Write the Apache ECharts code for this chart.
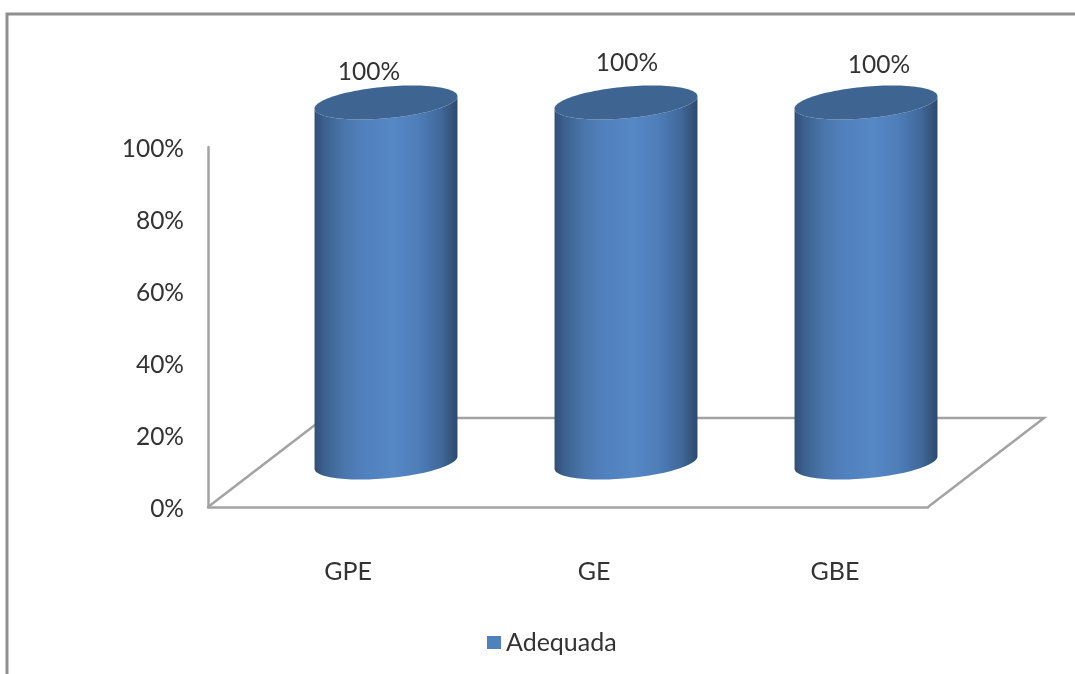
<!DOCTYPE html>
<html>
<head>
<meta charset="utf-8">
<style>html,body{margin:0;padding:0;background:#fff}#chart{width:1075px;height:674px}</style>
<script src="https://cdn.jsdelivr.net/npm/echarts@6/dist/echarts.min.js"></script>
</head>
<body>
<div id="chart"></div>
<script>
// Share of "Adequada" per group
const categories = ['GPE', 'GE', 'GBE'];
const adequada = [100, 100, 100];
const seriesName = 'Adequada';

// Depth of the 3D floor, in pixels
const depthX = 116, depthY = 89;
// Nudges for value labels and category labels, per group
const valueLabelShift = [[-17, -30], [1, -39], [13, -37]];
const categoryShift = { GPE: 20, GE: 26, GBE: 27 };

const FONT = 'Lato';
const TEXT = '#333333';
const AXIS = '#a3a3a3';

function ellipsePoints(cx, cy, a, b, tilt, from, to, n) {
  const pts = [];
  for (let i = 0; i <= n; i++) {
    const t = from + (to - from) * i / n;
    const ex = a * Math.cos(t), ey = b * Math.sin(t);
    pts.push([cx + ex * Math.cos(tilt) + ey * Math.sin(tilt),
              cy - ex * Math.sin(tilt) + ey * Math.cos(tilt)]);
  }
  return pts;
}

function renderCylinder(params, api) {
  const idx = api.value(0);
  const base = api.coord([idx, 0]);
  const top = api.coord([idx, api.value(1)]);
  const band = api.size([1, 0])[0];
  const a = band * 0.299, b = 15.8, tilt = 5.2 * Math.PI / 180;
  const cx = base[0] + depthX / 2;
  const yBase = base[1] - depthY / 2;
  const yTop = top[1] - depthY / 2;

  // Side wall: lower half of the bottom ellipse closed by the top ellipse edge
  const lower = ellipsePoints(cx, yBase, a, b, tilt, Math.PI, 0, 60);
  const upper = ellipsePoints(cx, yTop, a, b, tilt, 0, Math.PI, 60);
  const side = {
    type: 'polygon',
    shape: { points: lower.reverse().concat(upper.reverse()) },
    style: {
      fill: new echarts.graphic.LinearGradient(0, 0, 1, 0, [
        { offset: 0, color: '#304f77' },
        { offset: 0.07, color: '#3b628f' },
        { offset: 0.2, color: '#4a75ac' },
        { offset: 0.35, color: '#5181be' },
        { offset: 0.55, color: '#5687c6' },
        { offset: 0.72, color: '#4f7eb9' },
        { offset: 0.88, color: '#41699c' },
        { offset: 1, color: '#2d4a6c' }
      ])
    }
  };
  const cap = {
    type: 'polygon',
    shape: { points: ellipsePoints(cx, yTop, a, b, tilt, 0, Math.PI * 2, 120) },
    style: { fill: '#3e6491' }
  };
  const shift = valueLabelShift[idx];
  const label = {
    type: 'text',
    style: {
      text: api.value(1) + '%',
      x: cx + shift[0],
      y: yTop + shift[1],
      align: 'center',
      verticalAlign: 'middle',
      fill: TEXT,
      font: '24.5px ' + FONT
    }
  };
  return { type: 'group', children: [side, cap, label] };
}

const chart = echarts.init(document.getElementById('chart'), null, { renderer: 'canvas' });
const labelRich = {};
categories.forEach(function (c) {
  labelRich[c] = { padding: [0, 0, 0, categoryShift[c] * 2], fontFamily: FONT, fontSize: 25, color: TEXT };
});

chart.setOption({
  backgroundColor: '#ffffff',
  animation: false,
  grid: { left: 208, right: 147, top: 147, bottom: 167 },
  legend: {
    show: true,
    left: 482,
    top: 625,
    icon: 'rect',
    itemWidth: 14,
    itemHeight: 13,
    itemGap: 11,
    data: [{ name: seriesName, itemStyle: { color: '#4f81bd' } }],
    textStyle: { fontFamily: FONT, fontSize: 25, color: TEXT, padding: [0, 0, 0, 0] }
  },
  xAxis: {
    type: 'category',
    data: categories,
    axisLine: { show: true, lineStyle: { color: AXIS, width: 2.5 } },
    axisTick: { show: false },
    axisLabel: {
      margin: 52,
      formatter: function (v) { return '{' + v + '|' + v + '}'; },
      rich: labelRich
    }
  },
  yAxis: {
    type: 'value',
    min: 0,
    max: 100,
    interval: 20,
    axisLine: { show: true, lineStyle: { color: AXIS, width: 2.5 } },
    axisTick: { show: false },
    splitLine: { show: false },
    axisLabel: {
      margin: 24,
      formatter: function (v) { return '{tick|' + v + '%}'; },
      rich: {
        tick: { padding: [5, 0, 0, 0], fontFamily: FONT, fontSize: 24.5, color: TEXT }
      }
    }
  },
  series: [{
    type: 'custom',
    name: seriesName,
    coordinateSystem: 'cartesian2d',
    itemStyle: { color: '#4f81bd' },
    encode: { x: 0, y: 1 },
    data: adequada.map(function (v, i) { return [i, v]; }),
    renderItem: renderCylinder,
    z: 5
  }],
  graphic: [
    // Sheet frame, open on the right and at the bottom
    { type: 'polyline', z: 1, shape: { points: [[7, 674], [7, 14], [1075, 14]] },
      style: { stroke: '#8f8f8f', lineWidth: 3, fill: null } },
    // Floor of the 3D plot, behind the cylinders
    { type: 'polyline', z: 1,
      shape: { points: [[208, 507], [208 + depthX, 507 - depthY], [928 + depthX, 507 - depthY], [928, 507]] },
      style: { stroke: AXIS, lineWidth: 2.5, fill: null } }
  ]
});
</script>
</body>
</html>
